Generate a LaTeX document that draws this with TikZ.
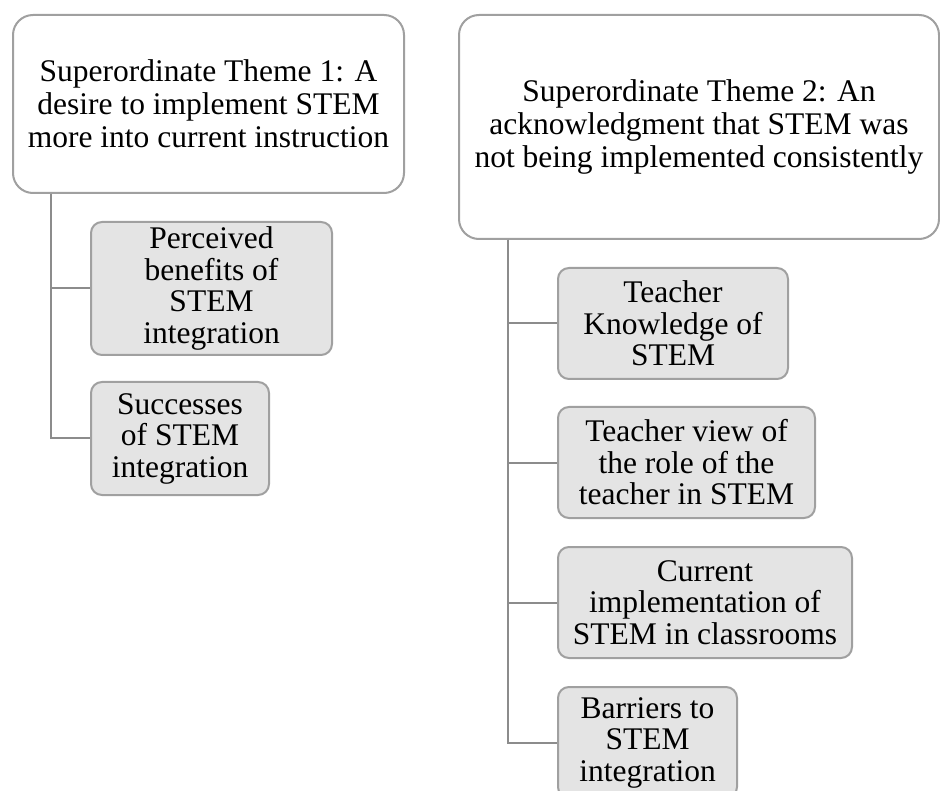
\documentclass[tikz,border=0pt]{standalone}
\usepackage{fontspec}
\setmainfont{Liberation Serif}
\usetikzlibrary{calc}
\definecolor{edgegray}{RGB}{160,160,160}
\definecolor{linkgray}{RGB}{140,140,140}
\definecolor{subfill}{RGB}{228,228,228}
\tikzset{
  themebox/.style={draw=edgegray, line width=2pt, fill=white, rounded corners=20pt,
    align=center, inner sep=0pt, font=\fontsize{31.5}{33}\selectfont},
  subbox/.style={draw=edgegray, line width=2pt, fill=subfill, rounded corners=11pt,
    align=center, inner sep=0pt, font=\fontsize{31.5}{31.5}\selectfont},
  link/.style={draw=linkgray, line width=2pt}
}
\begin{document}
\begin{tikzpicture}[x=1pt, y=-1pt]
  \clip (0,0) rectangle (940,791);
  \fill[white] (0,0) rectangle (940,791);

  % theme 1 and its subthemes
  \node[themebox, minimum width=391pt, minimum height=178pt] (t1) at (208.5,104)
    {Superordinate Theme 1: A\\ desire to implement STEM\\ more into current instruction};
  \node[subbox, minimum width=241pt, minimum height=133pt] (a1) at (211.5,288.5)
    {Perceived\\ benefits of\\ STEM\\ integration};
  \node[subbox, minimum width=178pt, minimum height=113pt] (a2) at (180,438.5)
    {Successes\\ of STEM\\ integration};

  % theme 2 and its subthemes
  \node[themebox, minimum width=480pt, minimum height=224pt] (t2) at (699,127)
    {Superordinate Theme 2: An\\ acknowledgment that STEM was\\ not being implemented consistently};
  \node[subbox, minimum width=230pt, minimum height=111pt] (b1) at (673,323.5)
    {Teacher\\ Knowledge of\\ STEM};
  \node[subbox, minimum width=257pt, minimum height=111pt] (b2) at (686.5,462.5)
    {Teacher view of\\ the role of the\\ teacher in STEM};
  \node[subbox, minimum width=294pt, minimum height=111pt] (b3) at (705,602.5)
    {Current\\ implementation of\\ STEM in classrooms};
  \node[subbox, minimum width=179pt, minimum height=111pt] (b4) at (647.5,742.5)
    {Barriers to\\ STEM\\ integration};

  % tree connectors
  \coordinate (trunkA) at ($(t1.south west)+(39,0)$);
  \coordinate (trunkB) at ($(t2.south west)+(50,0)$);
  \draw[link] (trunkA) |- (a1.west);
  \draw[link] (trunkA) |- (a2.west);
  \draw[link] (trunkB) |- (b1.west);
  \draw[link] (trunkB) |- (b2.west);
  \draw[link] (trunkB) |- (b3.west);
  \draw[link] (trunkB) |- (b4.west);
\end{tikzpicture}
\end{document}
